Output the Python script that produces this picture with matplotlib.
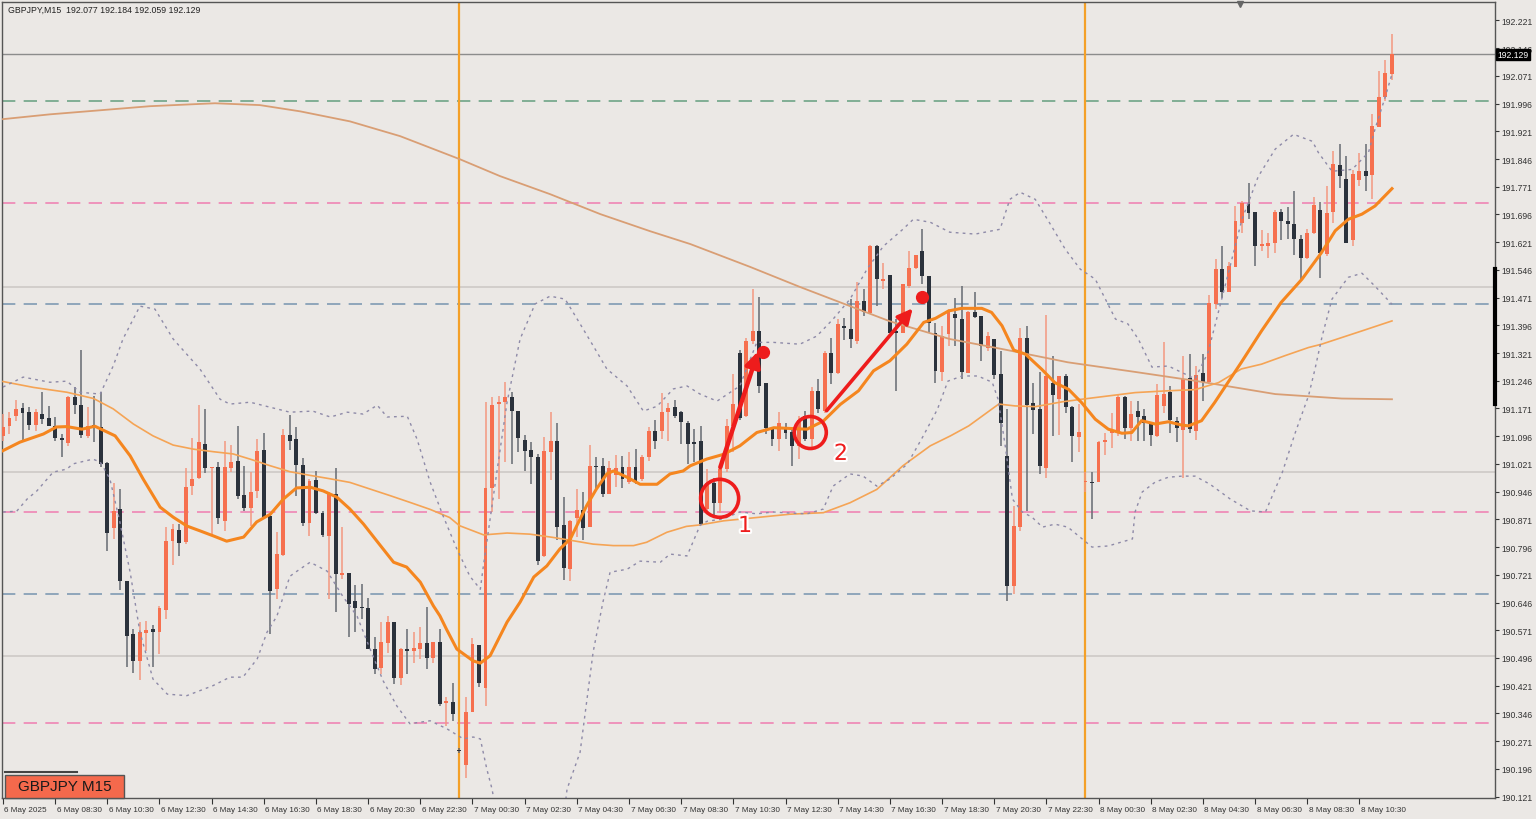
import numpy as np
import matplotlib.pyplot as plt
from matplotlib.patches import Ellipse, Rectangle
from matplotlib.lines import Line2D
import matplotlib.transforms as mtransforms
import matplotlib.patheffects as pe

# GBPJPY M15, bars from 6 May 06:30 (index 0) to 8 May 11:45 (index 213)
opens = [191.097, 191.123, 191.150, 191.172, 191.162, 191.126, 191.157, 191.144, 191.124, 191.091,
         191.078, 191.203, 191.181, 191.097, 191.127, 191.120, 191.023, 190.848, 190.899, 190.705,
         190.561, 190.489, 190.563, 190.573, 190.565, 190.627, 190.812, 190.842, 190.809, 190.960,
         190.982, 191.075, 191.010, 191.012, 190.866, 191.010, 191.030, 190.936, 190.903, 190.948,
         191.058, 190.880, 190.682, 190.775, 191.099, 191.088, 191.018, 190.862, 190.977, 190.889,
         190.826, 190.939, 190.720, 190.725, 190.650, 190.635, 190.632, 190.521, 190.469, 190.536,
         190.592, 190.443, 190.520, 190.515, 190.520, 190.536, 190.496, 190.538, 190.375, 190.378,
         190.247, 190.206, 190.349, 190.531, 190.415, 190.955, 191.182, 191.188, 191.201, 191.165,
         191.086, 191.059, 191.039, 190.773, 191.054, 191.082, 190.856, 190.737, 190.875, 190.897,
         190.850, 191.016, 191.016, 190.940, 190.991, 191.012, 190.971, 191.014, 190.979, 191.039,
         191.109, 191.109, 191.162, 191.174, 191.162, 191.131, 191.080, 191.083, 190.898, 190.970,
         190.916, 191.006, 191.124, 191.322, 191.151, 191.354, 191.381, 191.239, 191.119, 191.088,
         191.119, 191.108, 191.070, 191.151, 191.088, 191.219, 191.164, 191.322, 191.268, 191.394,
         191.387, 191.354, 191.462, 191.429, 191.611, 191.516, 191.532, 191.381, 191.376, 191.503,
         191.552, 191.597, 191.530, 191.376, 191.270, 191.372, 191.428, 191.413, 191.268, 191.433,
         191.420, 191.336, 191.359, 191.264, 191.043, 190.691, 190.849, 191.361, 191.187, 191.169,
         191.011, 191.241, 191.198, 191.260, 191.174, 191.093, 190.971, 190.971, 190.971, 191.081,
         191.106, 191.106, 191.201, 191.117, 191.163, 191.151, 191.131, 191.097, 191.178, 191.216,
         191.138, 191.113, 191.253, 191.111, 191.267, 191.243, 191.453, 191.548, 191.487, 191.555,
         191.674, 191.724, 191.703, 191.611, 191.611, 191.618, 191.703, 191.679, 191.670, 191.631,
         191.577, 191.645, 191.709, 191.589, 191.703, 191.829, 191.793, 191.627, 191.790, 191.814,
         191.802, 191.934, 192.015, 192.077]
highs = [191.156, 191.161, 191.195, 191.186, 191.174, 191.170, 191.217, 191.179, 191.147, 191.102,
         191.206, 191.228, 191.329, 191.174, 191.204, 191.215, 191.027, 190.969, 190.953, 190.705,
         190.574, 190.594, 190.597, 190.585, 190.637, 190.849, 190.858, 190.858, 191.009, 191.090,
         191.181, 191.170, 191.014, 191.025, 191.084, 191.072, 191.124, 191.016, 190.998, 191.088,
         191.106, 190.885, 190.837, 191.115, 191.153, 191.122, 191.038, 190.980, 191.002, 190.894,
         190.944, 191.009, 190.849, 190.727, 190.694, 190.697, 190.659, 190.553, 190.594, 190.610,
         190.592, 190.524, 190.575, 190.566, 190.581, 190.635, 190.538, 190.574, 190.389, 190.429,
         190.252, 190.391, 190.549, 190.531, 191.188, 191.201, 191.206, 191.244, 191.215, 191.165,
         191.098, 191.080, 191.048, 191.093, 191.161, 191.132, 190.931, 190.868, 190.952, 190.944,
         191.071, 191.039, 191.036, 191.030, 191.045, 191.042, 191.054, 191.061, 191.045, 191.120,
         191.141, 191.213, 191.186, 191.195, 191.165, 191.138, 191.115, 191.124, 191.006, 190.984,
         191.011, 191.142, 191.264, 191.330, 191.363, 191.494, 191.474, 191.241, 191.119, 191.162,
         191.131, 191.119, 191.150, 191.164, 191.228, 191.250, 191.327, 191.363, 191.413, 191.417,
         191.467, 191.512, 191.494, 191.613, 191.613, 191.566, 191.532, 191.412, 191.507, 191.596,
         191.587, 191.656, 191.530, 191.403, 191.395, 191.440, 191.471, 191.503, 191.435, 191.487,
         191.420, 191.377, 191.359, 191.327, 191.169, 190.908, 191.388, 191.395, 191.241, 191.269,
         191.424, 191.314, 191.260, 191.264, 191.178, 191.183, 190.998, 191.000, 191.084, 191.104,
         191.160, 191.210, 191.205, 191.192, 191.192, 191.169, 191.131, 191.237, 191.351, 191.232,
         191.147, 191.314, 191.318, 191.287, 191.318, 191.478, 191.575, 191.610, 191.568, 191.718,
         191.733, 191.781, 191.703, 191.655, 191.647, 191.709, 191.712, 191.715, 191.760, 191.640,
         191.656, 191.742, 191.730, 191.774, 191.868, 191.886, 191.853, 191.817, 191.862, 191.886,
         191.967, 192.085, 192.115, 192.184]
lows = [191.084, 191.102, 191.138, 191.079, 191.114, 191.111, 191.129, 191.123, 191.084, 191.041,
        191.070, 191.156, 191.091, 191.090, 191.081, 191.012, 190.786, 190.818, 190.681, 190.471,
        190.455, 190.437, 190.516, 190.471, 190.507, 190.601, 190.747, 190.773, 190.804, 190.937,
        190.980, 190.997, 190.827, 190.858, 190.840, 190.998, 190.926, 190.894, 190.853, 190.930,
        190.871, 190.560, 190.655, 190.772, 191.059, 190.934, 190.853, 190.826, 190.885, 190.824,
        190.655, 190.619, 190.709, 190.554, 190.565, 190.601, 190.519, 190.452, 190.452, 190.509,
        190.425, 190.423, 190.452, 190.483, 190.492, 190.465, 190.483, 190.366, 190.312, 190.326,
        190.240, 190.170, 190.349, 190.417, 190.367, 190.890, 190.926, 191.025, 191.021, 191.054,
        191.001, 190.967, 190.748, 190.770, 190.978, 190.814, 190.708, 190.704, 190.823, 190.816,
        190.850, 190.953, 190.931, 190.940, 190.958, 190.955, 190.967, 190.967, 190.976, 191.030,
        191.061, 191.089, 191.084, 191.144, 191.075, 191.021, 191.025, 190.858, 190.889, 190.880,
        190.889, 190.998, 191.052, 191.140, 191.149, 191.345, 191.214, 191.101, 191.070, 191.056,
        191.088, 191.016, 191.034, 191.083, 191.061, 191.160, 191.160, 191.237, 191.264, 191.357,
        191.336, 191.345, 191.422, 191.426, 191.449, 191.494, 191.376, 191.219, 191.376, 191.498,
        191.548, 191.507, 191.376, 191.241, 191.246, 191.341, 191.341, 191.252, 191.268, 191.415,
        191.300, 191.327, 191.250, 191.070, 190.651, 190.669, 190.840, 190.894, 191.102, 190.993,
        190.984, 191.097, 191.099, 191.159, 191.025, 191.052, 190.944, 190.872, 190.971, 191.045,
        191.065, 191.097, 191.088, 191.083, 191.083, 191.083, 191.070, 191.093, 191.160, 191.104,
        191.079, 190.984, 191.106, 191.086, 191.192, 191.237, 191.440, 191.469, 191.485, 191.553,
        191.647, 191.683, 191.557, 191.598, 191.577, 191.593, 191.628, 191.629, 191.586, 191.519,
        191.575, 191.643, 191.523, 191.584, 191.674, 191.769, 191.618, 191.611, 191.774, 191.760,
        191.737, 191.934, 192.004, 192.059]
closes = [191.120, 191.145, 191.170, 191.159, 191.126, 191.162, 191.143, 191.124, 191.090, 191.087,
          191.201, 191.180, 191.099, 191.123, 191.123, 191.021, 190.834, 190.894, 190.705, 190.556,
          190.489, 190.565, 190.572, 190.565, 190.630, 190.813, 190.845, 190.807, 190.958, 190.980,
          191.079, 191.009, 191.014, 190.875, 191.013, 191.025, 190.935, 190.903, 190.945, 191.056,
          190.876, 190.677, 190.777, 191.099, 191.083, 191.017, 190.862, 190.975, 190.889, 190.828,
          190.939, 190.723, 190.727, 190.641, 190.631, 190.631, 190.521, 190.465, 190.539, 190.592,
          190.443, 190.521, 190.515, 190.522, 190.536, 190.496, 190.538, 190.371, 190.380, 190.344,
          190.245, 190.349, 190.534, 190.428, 190.955, 191.181, 191.188, 191.201, 191.165, 191.091,
          191.057, 191.039, 190.759, 191.057, 191.082, 190.850, 190.739, 190.866, 190.895, 190.848,
          191.015, 191.012, 190.940, 191.009, 191.009, 190.980, 191.012, 190.976, 191.039, 191.111,
          191.084, 191.162, 191.172, 191.150, 191.134, 191.075, 191.076, 190.858, 190.970, 190.916,
          191.006, 191.124, 191.182, 191.146, 191.354, 191.381, 191.232, 191.119, 191.088, 191.131,
          191.106, 191.070, 191.140, 191.088, 191.219, 191.169, 191.322, 191.268, 191.399, 191.389,
          191.358, 191.462, 191.431, 191.611, 191.521, 191.521, 191.376, 191.376, 191.507, 191.552,
          191.587, 191.530, 191.403, 191.273, 191.368, 191.431, 191.417, 191.270, 191.431, 191.419,
          191.341, 191.368, 191.261, 191.131, 190.691, 190.854, 191.361, 191.180, 191.168, 191.016,
          191.260, 191.207, 191.260, 191.174, 191.097, 191.108, 190.974, 190.969, 191.081, 191.086,
          191.110, 191.201, 191.117, 191.156, 191.149, 191.131, 191.099, 191.207, 191.210, 191.140,
          191.117, 191.250, 191.115, 191.261, 191.243, 191.456, 191.548, 191.485, 191.557, 191.679,
          191.727, 191.701, 191.611, 191.615, 191.618, 191.703, 191.679, 191.670, 191.629, 191.577,
          191.645, 191.721, 191.591, 191.700, 191.832, 191.799, 191.620, 191.805, 191.814, 191.799,
          191.936, 192.015, 192.078, 192.129]

# indicator lines (bar index, price)
ma_fast_x = [0, 2.6, 6.2, 8.2, 9.8, 12.1, 14.1, 17.2, 19.5, 21.5, 24.1, 26.1, 28.2, 30.2, 32.3, 34.3,
             36.9, 38.9, 41, 43, 45, 47.1, 49.1, 51.2, 53.2, 55.3, 57.3, 59.9, 61.9, 64, 66, 67, 68,
             69.6, 72.1, 73.2, 74.7, 77.3, 79.3, 81.4, 83.4, 85.4, 87, 88, 89.5, 91, 92.6, 93.6, 95.7,
             97.7, 100.3, 102.3, 104.3, 105.4, 107.9, 110.5, 113, 115.6, 118.2, 120.7, 123.3, 125.8,
             128.4, 131.2, 133.5, 136, 138.6, 141.2, 143, 145, 147, 150.1, 151.6, 153.2, 155, 156.8,
             159.3, 161.3, 163.4, 165.4, 167.5, 169.5, 171.6, 173.1, 174.6, 176.7, 178.7, 180.8,
             181.8, 183.8, 185.8, 189.9, 193, 196, 199.2, 202.2, 204.3, 206.3, 208.4, 210.4, 213]
ma_fast_y = [191.057, 191.080, 191.102, 191.121, 191.122, 191.115, 191.123, 191.097, 191.043, 190.980,
             190.904, 190.877, 190.853, 190.840, 190.826, 190.812, 190.823, 190.864, 190.885, 190.926,
             190.956, 190.958, 190.948, 190.931, 190.899, 190.858, 190.813, 190.755, 190.742, 190.701,
             190.637, 190.610, 190.574, 190.520, 190.488, 190.482, 190.502, 190.593, 190.647, 190.715,
             190.745, 190.791, 190.818, 190.854, 190.908, 190.953, 190.994, 191.002, 190.985, 190.966,
             190.966, 190.994, 191.002, 191.016, 191.034, 191.047, 191.070, 191.106, 191.119, 191.117,
             191.115, 191.137, 191.182, 191.219, 191.273, 191.300, 191.345, 191.404, 191.415, 191.435,
             191.442, 191.442, 191.431, 191.395, 191.329, 191.318, 191.277, 191.241, 191.223, 191.187,
             191.142, 191.115, 191.104, 191.106, 191.138, 191.129, 191.135, 191.126, 191.124, 191.138,
             191.187, 191.296, 191.381, 191.458, 191.521, 191.593, 191.652, 191.683, 191.697, 191.719,
             191.766]

ma_mid_x = [0, 4.7, 9.8, 13.9, 16.9, 20, 23, 26.1, 29.2, 32.3, 35.3, 37.9, 41, 44, 47.1, 50.1, 53.2,
            56.3, 59.4, 62.4, 65.5, 68.5, 70, 73.7, 77.3, 80.8, 84.4, 87.5, 90.5, 93.6, 96.7, 98.7,
            101.8, 104.8, 106.9, 110.5, 115.6, 120.7, 125.8, 129.9, 134, 138, 142.2, 145.3, 148.1,
            152.7, 155.2, 158.3, 162.4, 165.4, 169.5, 173.6, 178.7, 182.8, 186.4, 189.9, 193, 196.6,
            200.2, 202.2, 205.3, 208.4, 213]
ma_mid_y = [191.244, 191.228, 191.215, 191.198, 191.170, 191.129, 191.097, 191.072, 191.061, 191.054,
            191.048, 191.034, 191.016, 191.000, 190.990, 190.981, 190.971, 190.953, 190.935, 190.917,
            190.898, 190.876, 190.854, 190.829, 190.834, 190.831, 190.822, 190.813, 190.804, 190.800,
            190.800, 190.809, 190.836, 190.852, 190.856, 190.867, 190.876, 190.885, 190.889, 190.916,
            190.952, 191.016, 191.070, 191.097, 191.124, 191.183, 191.178, 191.176, 191.189, 191.196,
            191.205, 191.214, 191.219, 191.222, 191.241, 191.278, 191.291, 191.314, 191.336, 191.345,
            191.363, 191.381, 191.408]

ma_slow_x = [0, 7.2, 14.9, 22.5, 32.5, 39.4, 45.6, 53.2, 60.9, 70, 76.2, 83.9, 91.6, 99.2, 105.4,
             114.6, 122.2, 129.9, 136, 145.2, 153.2, 163.3, 173.6, 182.8, 195.1, 205.3, 213]
ma_slow_y = [191.954, 191.967, 191.978, 191.989, 191.997, 191.992, 191.975, 191.948, 191.908, 191.846,
             191.800, 191.751, 191.697, 191.651, 191.616, 191.554, 191.500, 191.448, 191.407, 191.359,
             191.332, 191.296, 191.270, 191.246, 191.210, 191.198, 191.196]

bb_up_x = [0, 3.1, 7.2, 9.8, 11.8, 14.9, 16.9, 18.4, 21, 23.3, 26.1, 30.2, 33.3, 34.8, 37.9, 44,
           47.5, 50.2, 52.8, 55.2, 57.4, 58.9, 62, 63.5, 65.5, 67.5, 69.6, 71.6, 73.2, 73.6, 74.7,
           75.8, 77.3, 79.3, 81.6, 83.9, 86.2, 88.5, 90.8, 92.6, 95.7, 98.2, 100.3, 102.8, 104.9,
           106.9, 109.5, 113, 115.6, 118.1, 122.2, 124.8, 127.3, 129.9, 132.5, 135, 138, 139.6,
           142.2, 145.2, 149.1, 152.9, 154.4, 156, 158.3, 160.6, 162.9, 165.2, 167.5, 170.6, 172.5,
           174.1, 176.2, 178.7, 181.3, 182.8, 184.8, 187.4, 190, 192.5, 195.1, 197.9, 200.8, 201.7,
           203.8, 206.9, 209.4, 210.4, 212, 213]
bb_up_y = [191.229, 191.256, 191.242, 191.245, 191.215, 191.210, 191.286, 191.359, 191.448, 191.440,
           191.359, 191.278, 191.196, 191.183, 191.188, 191.161, 191.164, 191.148, 191.161, 191.156,
           191.180, 191.148, 191.150, 191.088, 190.972, 190.880, 190.791, 190.717, 190.682, 190.736,
           190.872, 191.007, 191.188, 191.359, 191.454, 191.475, 191.467, 191.400, 191.332, 191.278,
           191.232, 191.164, 191.177, 191.224, 191.232, 191.210, 191.191, 191.232, 191.350, 191.350,
           191.345, 191.367, 191.413, 191.467, 191.548, 191.610, 191.656, 191.683, 191.675, 191.648,
           191.643, 191.656, 191.737, 191.756, 191.737, 191.670, 191.602, 191.548, 191.521, 191.413,
           191.400, 191.359, 191.283, 191.286, 191.264, 191.251, 191.323, 191.502, 191.683, 191.799,
           191.873, 191.913, 191.894, 191.864, 191.813, 191.818, 191.864, 191.927, 192.016, 192.076]

bb_dn_x = [0, 2.1, 3.7, 5.2, 7.7, 9.8, 10.7, 13.8, 14.9, 15.3, 16.4, 17.9, 19.5, 21, 23, 25.2, 28.2,
           32.2, 34.8, 36.8, 39, 40.5, 42, 44, 45.1, 47.1, 49.7, 52.1, 54.3, 56.3, 58.3, 60.4, 62.4,
           65.5, 68.1, 70.6, 72.1, 73.2, 74.2, 75, 75.8, 76.7, 85.4, 86.5, 88.5, 90.5, 92, 93.1, 95.7,
           97.7, 100.8, 102.3, 104.9, 106.9, 108, 110.4, 113, 115.6, 118.1, 120.7, 123.3, 125.8,
           127.3, 129.9, 131.9, 134, 136, 138.7, 141.1, 143.3, 144.9, 147.1, 149.5, 151.7, 152.6,
           153.7, 154.8, 156.3, 157.8, 159.4, 161.3, 163.3, 165.5, 167, 169.5, 171.6, 173.2, 173.6,
           174.7, 176.7, 178.7, 180.8, 182.8, 185.1, 188.2, 191.3, 193.6, 196.2, 198.2, 200.2, 201.2,
           202.3, 203.8, 206.3, 208.4, 210.4, 213]
bb_dn_y = [190.891, 190.893, 190.926, 190.948, 190.999, 191.007, 191.021, 191.034, 191.026, 191.015,
           190.980, 190.866, 190.728, 190.566, 190.439, 190.398, 190.394, 190.421, 190.444, 190.444,
           190.494, 190.566, 190.609, 190.717, 190.731, 190.755, 190.731, 190.663, 190.609, 190.520,
           190.434, 190.366, 190.318, 190.326, 190.304, 190.277, 190.282, 190.277, 190.195, 190.141,
           190.060, 189.979, 189.979, 190.141, 190.241, 190.512, 190.647, 190.728, 190.736, 190.758,
           190.755, 190.777, 190.772, 190.855, 190.866, 190.872, 190.891, 190.886, 190.891, 190.888,
           190.886, 190.899, 190.961, 190.994, 190.988, 190.961, 190.980, 191.021, 191.096, 191.169,
           191.245, 191.259, 191.259, 191.242, 191.196, 191.069, 190.926, 190.891, 190.877, 190.850,
           190.858, 190.850, 190.818, 190.796, 190.799, 190.810, 190.818, 190.891, 190.945, 190.972,
           190.985, 190.988, 190.988, 190.966, 190.926, 190.894, 190.891, 190.999, 191.107, 191.205,
           191.278, 191.367, 191.467, 191.526, 191.537, 191.502, 191.453]

# horizontal levels
green_levels = [192.003]
pink_levels = [191.727, 190.891, 190.320]
blue_levels = [191.453, 190.668]
round_levels = [191.5, 191.0, 190.5]
bid_price = 192.129
day_breaks = [70, 166]

price_ticks = ['192.221', '192.146', '192.071', '191.996', '191.921', '191.846', '191.771', '191.696',
               '191.621', '191.546', '191.471', '191.396', '191.321', '191.246', '191.171', '191.096',
               '191.021', '190.946', '190.871', '190.796', '190.721', '190.646', '190.571', '190.496',
               '190.421', '190.346', '190.271', '190.196', '190.121']
time_ticks = ['6 May 2025', '6 May 08:30', '6 May 10:30', '6 May 12:30', '6 May 14:30', '6 May 16:30',
              '6 May 18:30', '6 May 20:30', '6 May 22:30', '7 May 00:30', '7 May 02:30', '7 May 04:30',
              '7 May 06:30', '7 May 08:30', '7 May 10:30', '7 May 12:30', '7 May 14:30', '7 May 16:30',
              '7 May 18:30', '7 May 20:30', '7 May 22:30', '8 May 00:30', '8 May 02:30', '8 May 04:30',
              '8 May 06:30', '8 May 08:30', '8 May 10:30']

bg = '#ebe8e5'
bull = '#f6704f'
bull_wick = '#f49880'
bear = '#2b323c'
bear_wick = '#656a72'
red = '#ee1c1c'
small_font = ['Liberation Sans', 'DejaVu Sans']

fig = plt.figure(figsize=(15.36, 8.2), dpi=100, facecolor=bg)
ax = fig.add_axes([2 / 1536, 21 / 820, 1493 / 1536, 796 / 820])
ax.set_facecolor(bg)
ax.set_xlim(-0.15, 228.8)
ax.set_ylim(190.117, 192.271)

for lv in round_levels:
    ax.axhline(lv, color='#cdc9c6', lw=1.2, zorder=1)
ax.axhline(bid_price, color='#8c8c8c', lw=1, zorder=1)
for lv in green_levels:
    ax.axhline(lv, color='#6fa487', lw=1.2, ls=(0, (8, 5)), zorder=1)
for lv in pink_levels:
    ax.axhline(lv, color='#ef85b4', lw=1.2, ls=(0, (8, 5)), zorder=1)
for lv in blue_levels:
    ax.axhline(lv, color='#7f9ab3', lw=1.2, ls=(0, (8, 5)), zorder=1)
for d in day_breaks:
    ax.axvline(d, color='#f4a028', lw=1.6, zorder=2)

# candles
o = np.array(opens)
h = np.array(highs)
l = np.array(lows)
c = np.array(closes)
idx = np.arange(len(o))
up = c >= o
ax.vlines(idx[up], l[up], h[up], color=bull_wick, lw=1.1, zorder=3)
ax.vlines(idx[~up], l[~up], h[~up], color=bear_wick, lw=1.1, zorder=3)
body_lo = np.minimum(o, c)
body_h = np.maximum(np.abs(c - o), 0.003)
ax.bar(idx[up], body_h[up], bottom=body_lo[up], width=0.6, color=bull, zorder=4)
ax.bar(idx[~up], body_h[~up], bottom=body_lo[~up], width=0.6, color=bear, zorder=4)

# indicators
ax.plot(ma_slow_x, ma_slow_y, color='#d99e74', lw=1.3, zorder=5)
ax.plot(ma_mid_x, ma_mid_y, color='#f5a455', lw=1.2, zorder=5)
ax.plot(ma_fast_x, ma_fast_y, color='#f5861f', lw=2.2, zorder=6)
ax.plot(bb_up_x, bb_up_y, color='#8e8aa8', lw=1, ls=(0, (2, 3)), zorder=5)
ax.plot(bb_dn_x, bb_dn_y, color='#8e8aa8', lw=1, ls=(0, (2, 3)), zorder=5)

# red marks
ax.annotate('', xy=(115.8, 191.326), xytext=(110, 191.012),
            arrowprops=dict(arrowstyle='-|>,head_length=0.9,head_width=0.45', lw=3.2,
                            color=red, shrinkA=0, shrinkB=0), zorder=8)
ax.annotate('', xy=(139.5, 191.442), xytext=(126.3, 191.165),
            arrowprops=dict(arrowstyle='-|>,head_length=0.9,head_width=0.45', lw=2.6,
                            color=red, shrinkA=0, shrinkB=0), zorder=8)
ax.plot([116.5, 140.9], [191.323, 191.474], 'o', ms=8.5, color=red, zorder=9)
ax.add_patch(Ellipse((109.9, 190.928), 5.83, 0.1028, fill=False, ec=red, lw=2.6, zorder=8))
ax.add_patch(Ellipse((123.8, 191.106), 4.91, 0.0866, fill=False, ec=red, lw=2.6, zorder=8))
halo = [pe.withStroke(linewidth=3, foreground='white')]
ax.text(113.8, 190.853, '1', color=red, fontsize=16, ha='center', va='center',
        zorder=9, path_effects=halo)
ax.text(128.5, 191.048, '2', color=red, fontsize=16, ha='center', va='center',
        zorder=9, path_effects=halo)

# axes styling
for side in ['left', 'top', 'bottom', 'right']:
    ax.spines[side].set_color('#555555')
    ax.spines[side].set_linewidth(1)
ax.yaxis.tick_right()
ax.set_yticks([float(t) for t in price_ticks])
ax.set_yticklabels(price_ticks, family=small_font)
ax.tick_params(axis='y', length=3, width=0.8, pad=1.5, labelsize=6.2, colors='#333333')
ax.set_xticks(np.arange(0, 8 * len(time_ticks), 8))
ax.set_xticklabels(time_ticks, ha='left', family=small_font)
ax.tick_params(axis='x', length=4, width=0.8, pad=1.5, labelsize=5.9, colors='#333333')
shift = mtransforms.ScaledTranslation(1.5 / 100, 0, fig.dpi_scale_trans)
for lab in ax.get_xticklabels():
    lab.set_transform(lab.get_transform() + shift)

# price marker and right-axis scroll bar
yblend = mtransforms.blended_transform_factory(ax.transAxes, ax.transData)
ax.text(1.0015, bid_price, '192.129', transform=yblend, color='white', fontsize=6.2,
        family=small_font, va='center', ha='left',
        bbox=dict(boxstyle='square,pad=0.15', fc='black', ec='black'), zorder=10)
ax.add_line(Line2D([1.0, 1.0], [191.548, 191.183], transform=yblend, color='black',
                   lw=3, clip_on=False, zorder=10))

# header text, symbol box, shift marker
fig.text(8 / 1536, 1 - 10 / 820, 'GBPJPY,M15  192.077 192.184 192.059 192.129',
         fontsize=6.3, color='#222222', va='center', ha='left', family=small_font)
fig.patches.append(Rectangle((5 / 1536, 21.5 / 820), 119 / 1536, 22.5 / 820,
                             transform=fig.transFigure, fc='#f4694c', ec='#555555', lw=1))
fig.lines.append(Line2D([5 / 1536, 77 / 1536], [1 - 773 / 820, 1 - 773 / 820],
                        transform=fig.transFigure, color='#444444', lw=1.5))
fig.text(64.5 / 1536, 1 - 787.5 / 820, 'GBPJPY M15', fontsize=11, color='#1a1a1a',
         ha='center', va='center', family=small_font)
fig.lines.append(Line2D([1240 / 1536], [1 - 5 / 820], marker='v', ms=5, color='#666666',
                        transform=fig.transFigure))

fig.savefig('out.png', dpi=100, facecolor=bg)
